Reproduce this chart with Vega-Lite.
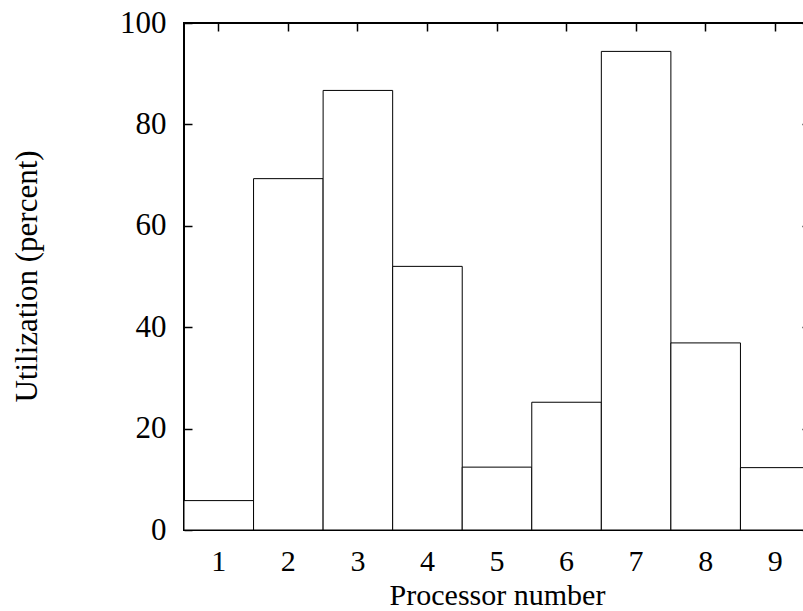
{
  "$schema": "https://vega.github.io/schema/vega-lite/v6.json",
  "width": 626,
  "height": 507,
  "autosize": {"type": "none"},
  "padding": {"left": 184, "top": 23, "right": 0, "bottom": 81},
  "background": "white",
  "config": {
    "view": {"stroke": "black", "strokeWidth": 2},
    "font": "Liberation Serif",
    "axis": {
      "grid": false,
      "domain": false,
      "tickColor": "black",
      "tickWidth": 1.5,
      "tickSize": -8,
      "labelFont": "Liberation Serif",
      "labelFontSize": 31,
      "labelColor": "black",
      "titleFont": "Liberation Serif",
      "titleFontSize": 31,
      "titleFontWeight": "normal",
      "titleColor": "black"
    }
  },
  "data": {
    "values": [
      {"proc": "1", "util": 5.8},
      {"proc": "2", "util": 69.3},
      {"proc": "3", "util": 86.7},
      {"proc": "4", "util": 52.0},
      {"proc": "5", "util": 12.4},
      {"proc": "6", "util": 25.2},
      {"proc": "7", "util": 94.4},
      {"proc": "8", "util": 36.9},
      {"proc": "9", "util": 12.3}
    ]
  },
  "layer": [
    {
      "mark": {"type": "bar", "fill": "white", "stroke": "black", "strokeWidth": 1},
      "encoding": {
        "x": {
          "field": "proc", "type": "ordinal", "sort": null,
          "scale": {"paddingInner": 0, "paddingOuter": 0},
          "axis": {
            "orient": "bottom", "title": "Processor number", "labelAngle": 0,
            "labelFontSize": 30, "titleFontSize": 30,
            "labelBaseline": "alphabetic", "labelPadding": 48,
            "titleBaseline": "alphabetic", "titleX": 313, "titleY": 74, "titleAnchor": null
          }
        },
        "y": {
          "field": "util", "type": "quantitative",
          "scale": {"domain": [0, 100], "nice": false, "zero": true},
          "axis": {
            "orient": "left", "title": "Utilization (percent)", "values": [0, 20, 40, 60, 80, 100],
            "labelPadding": 26, "labelBaseline": "middle",
            "titleAngle": -90, "titleBaseline": "alphabetic", "titleX": -148, "titleY": 253, "titleAnchor": null
          }
        }
      }
    },
    {
      "mark": {"type": "bar", "opacity": 0},
      "encoding": {
        "x": {
          "field": "proc", "type": "ordinal", "sort": null,
          "scale": {"paddingInner": 0, "paddingOuter": 0},
          "axis": {"orient": "top", "title": null, "labels": false}
        },
        "y": {
          "field": "util", "type": "quantitative",
          "scale": {"domain": [0, 100], "nice": false, "zero": true},
          "axis": {"orient": "right", "title": null, "labels": false, "values": [0, 20, 40, 60, 80, 100]}
        }
      }
    }
  ],
  "resolve": {"axis": {"x": "independent", "y": "independent"}}
}
